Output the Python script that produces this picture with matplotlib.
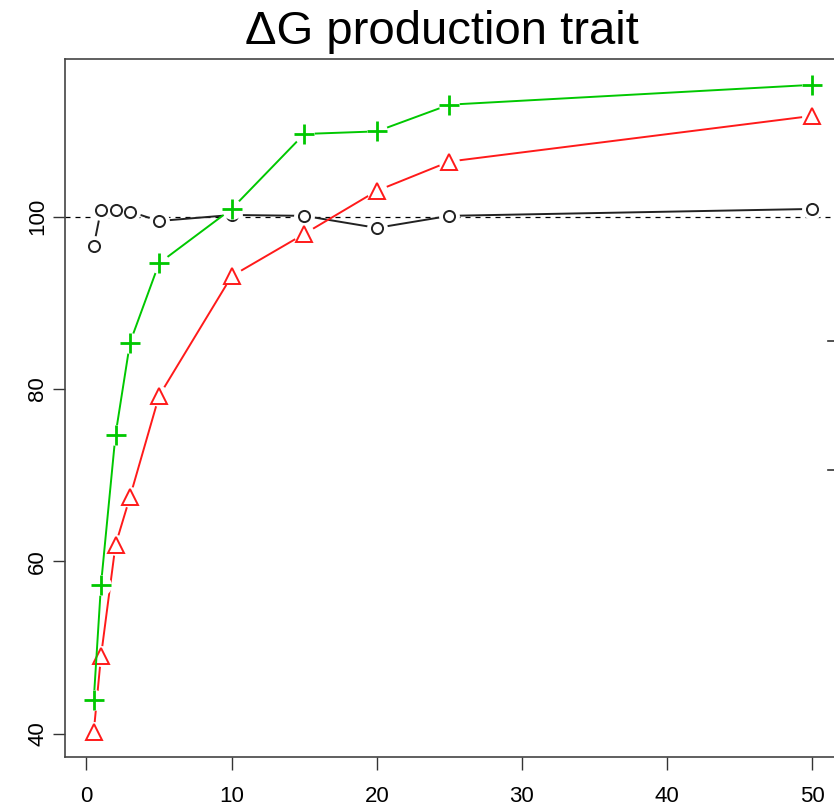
import matplotlib
matplotlib.use("Agg")
import matplotlib.pyplot as plt
from matplotlib.lines import Line2D

plt.rcParams['font.family'] = ['Liberation Sans', 'DejaVu Sans']

x = [0.5, 1, 2, 3, 5, 10, 15, 20, 25, 50]
green_plus = [43.9, 57.3, 74.7, 85.4, 94.6, 100.9, 109.6, 109.9, 113.0, 115.3]
red_tri = [40.2, 49.0, 61.9, 67.5, 79.2, 93.1, 98.0, 103.0, 106.4, 111.7]
black_circ = [96.6, 100.8, 100.8, 100.6, 99.5, 100.2, 100.1, 98.7, 100.1, 100.9]
xticks = [0, 10, 20, 30, 40, 50]
yticks = [40, 60, 80, 100]
title = "\u0394G production trait"

W, H = 834, 809
fig = plt.figure(figsize=(W / 100, H / 100), dpi=100)
ax = fig.add_axes([65 / W, 52 / H, (841 - 65) / W, (757 - 59) / H])

ax.axhline(100, color='black', lw=0.9, ls=(0, (4, 4)), zorder=1)

series = [
    (black_circ, '#222222', 'o', 8, dict(mfc='none', mew=1.4)),
    (red_tri, '#ff1a1a', '^', 11, dict(mfc='none', mew=1.4)),
    (green_plus, '#00c800', '+', 14, dict(mew=2.0)),
]
z = 2
for ys, col, mk, ms, kw in series:
    ax.plot(x, ys, color=col, lw=1.4, zorder=z)
    ax.plot(x, ys, ls='none', marker='o', ms=15, mfc='white', mec='none', zorder=z + 0.5)
    ax.plot(x, ys, ls='none', marker=mk, ms=ms, mec=col, color=col, zorder=z + 1, **kw)
    z += 2

ax.set_xlim(-1.48, 51.98)
ax.set_ylim(37.3, 118.3)
ax.set_xticks(xticks)
ax.set_yticks(yticks)
ax.tick_params(axis='both', direction='out', length=9, width=1, color='#333333',
               labelsize=16)
ax.tick_params(axis='x', pad=12)
ax.tick_params(axis='y', pad=3)
for lab in ax.get_yticklabels():
    lab.set_rotation(90)
    lab.set_va('center')
for s in ax.spines.values():
    s.set_color('#444444')
    s.set_linewidth(1.2)

fig.text(442 / W, 1 - 32 / H, title, ha='center', va='center', fontsize=34)

for yy in (341, 470):
    fig.add_artist(Line2D([828 / W, 834 / W], [1 - yy / H, 1 - yy / H],
                          color='#333333', lw=1.2))

fig.savefig('out.png', dpi=100)
